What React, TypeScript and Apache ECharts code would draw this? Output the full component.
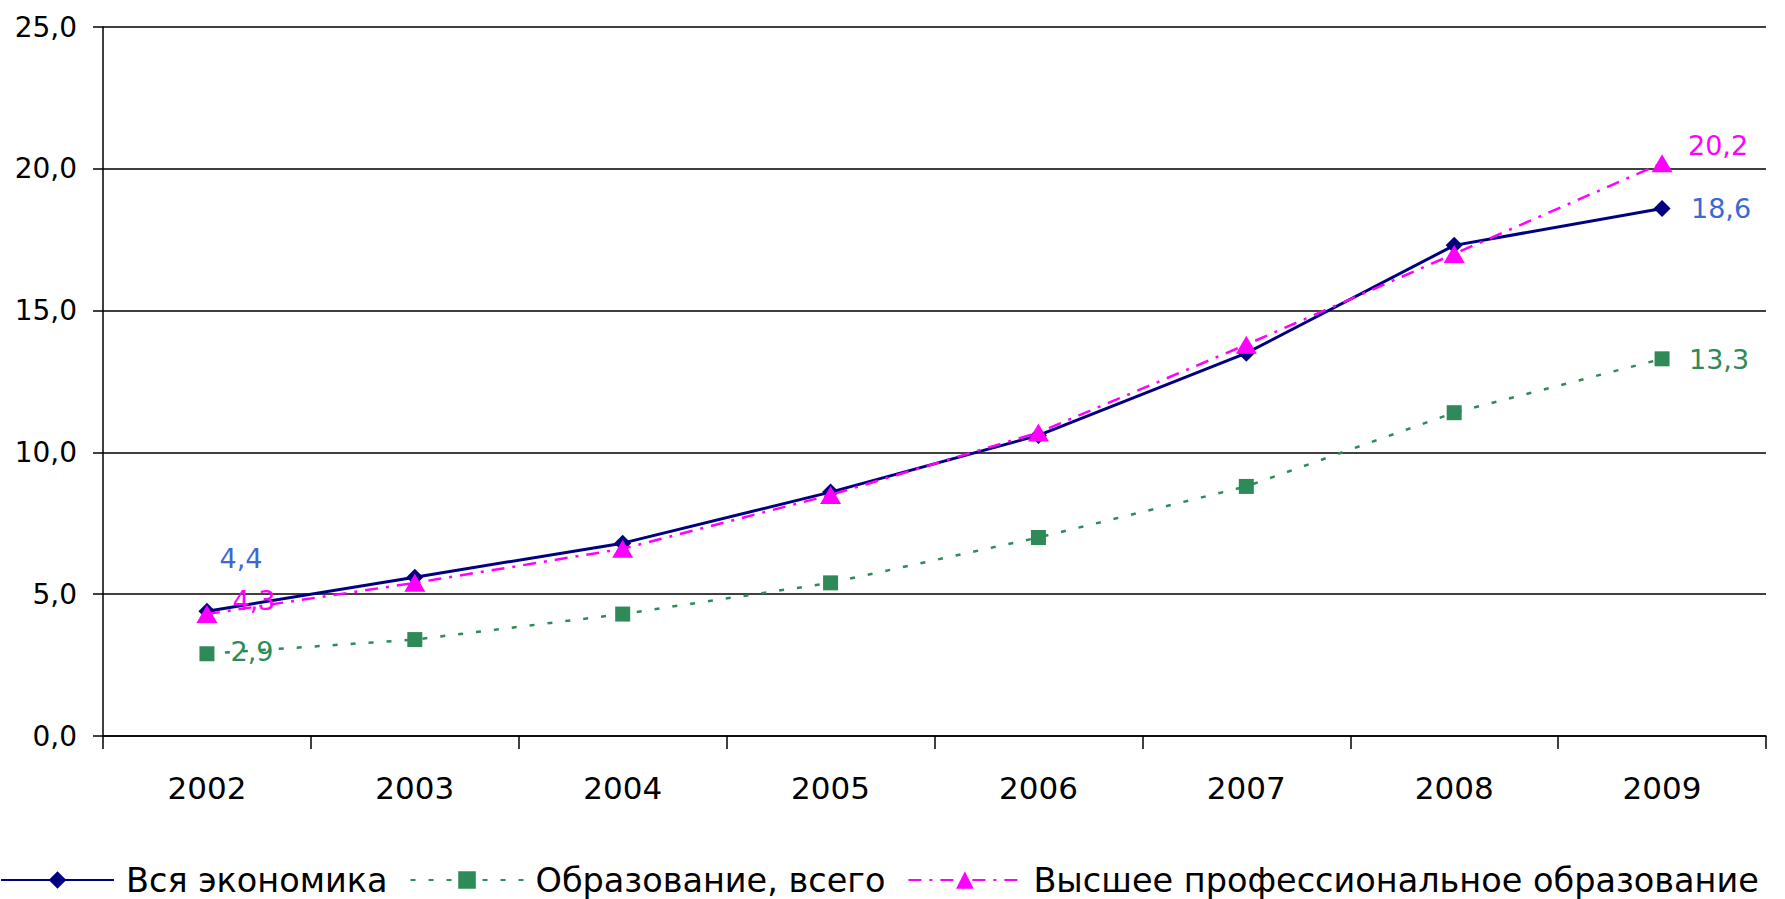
import React, { useEffect, useRef } from "react";
import * as echarts from "echarts";

const years = ["2002", "2003", "2004", "2005", "2006", "2007", "2008", "2009"];
const economyValues = [4.4, 5.6, 6.8, 8.6, 10.6, 13.5, 17.3, 18.6];
const educationValues = [2.9, 3.4, 4.3, 5.4, 7.0, 8.8, 11.4, 13.3];
const higherEduValues = [4.3, 5.4, 6.6, 8.5, 10.7, 13.8, 17.0, 20.2];
const seriesNames = ["Вся экономика", "Образование, всего", "Высшее профессиональное образование"];
const yTicks = { min: 0, max: 25, interval: 5 };

const FONT = "DejaVu Sans";
const fmt = (v: number) => v.toFixed(1).replace(".", ",");

function withLabels(values: number[], color: string, firstOffset: number[], lastOffset: number[]) {
  const last = values.length - 1;
  return values.map((v, i) => {
    if (i === 0 || i === last) {
      return {
        value: v,
        label: {
          show: true,
          position: "inside",
          align: "center",
          verticalAlign: "middle",
          offset: i === 0 ? firstOffset : lastOffset,
          formatter: (p: any) => fmt(p.value),
          color,
          fontFamily: FONT,
          fontSize: 27,
        },
      };
    }
    return v;
  });
}

export default function App() {
  const ref = useRef<HTMLDivElement>(null);
  useEffect(() => {
    if (!ref.current) return;
    const chart = echarts.init(ref.current, undefined, { renderer: "svg" });
    chart.setOption({
      animation: false,
      backgroundColor: "#ffffff",
      grid: { left: 103, right: 19, top: 27, bottom: 163, containLabel: false },
      legend: {
        left: 0,
        top: 862,
        padding: 0,
        itemWidth: 113,
        itemHeight: 22,
        itemGap: 22,
        textStyle: { fontFamily: FONT, fontSize: 33.5, lineHeight: 36, color: "#000", padding: [0, 0, 0, 7] },
        data: seriesNames,
      },
      xAxis: {
        type: "category",
        data: years,
        boundaryGap: true,
        axisLine: { show: true, lineStyle: { color: "#000", width: 1.5 } },
        axisTick: { show: true, length: 13, interval: 0, lineStyle: { color: "#000", width: 1.5 } },
        axisLabel: { fontFamily: FONT, fontSize: 31, color: "#000", margin: 36, interval: 0 },
        splitLine: { show: false },
      },
      yAxis: {
        type: "value",
        min: yTicks.min,
        max: yTicks.max,
        interval: yTicks.interval,
        axisLine: { show: true, lineStyle: { color: "#000", width: 1.5 } },
        axisTick: { show: true, length: 10, lineStyle: { color: "#000", width: 1.5 } },
        axisLabel: { fontFamily: FONT, fontSize: 28, color: "#000", margin: 26, formatter: (v: number) => fmt(v) },
        splitLine: { show: true, lineStyle: { color: "#000", width: 1.5 } },
      },
      series: [
        {
          name: seriesNames[0],
          type: "line",
          data: withLabels(economyValues, "#3d68d4", [34, -53], [59, 0]),
          symbol: "diamond",
          symbolSize: 17,
          itemStyle: { color: "#000080" },
          lineStyle: { color: "#000080", width: 3, type: "solid" },
          z: 2,
        },
        {
          name: seriesNames[1],
          type: "line",
          data: withLabels(educationValues, "#2e8b57", [45, -2], [57, 1]),
          symbol: "rect",
          symbolSize: 15,
          itemStyle: { color: "#2e8b57" },
          lineStyle: { color: "#2e8b57", width: 2.5, type: [5, 13] },
          z: 3,
        },
        {
          name: seriesNames[2],
          type: "line",
          data: withLabels(higherEduValues, "#ff00ff", [47, -14], [56, -18]),
          symbol: "triangle",
          symbolSize: [21, 18],
          itemStyle: { color: "#ff00ff" },
          lineStyle: { color: "#ff00ff", width: 2.5, type: [13, 8, 3, 8] },
          z: 4,
        },
      ],
    });
    return () => chart.dispose();
  }, []);
  return (
    <div
      ref={ref}
      style={{ position: "fixed", left: 0, top: 0, width: 1785, height: 899, background: "#fff" }}
    />
  );
}
